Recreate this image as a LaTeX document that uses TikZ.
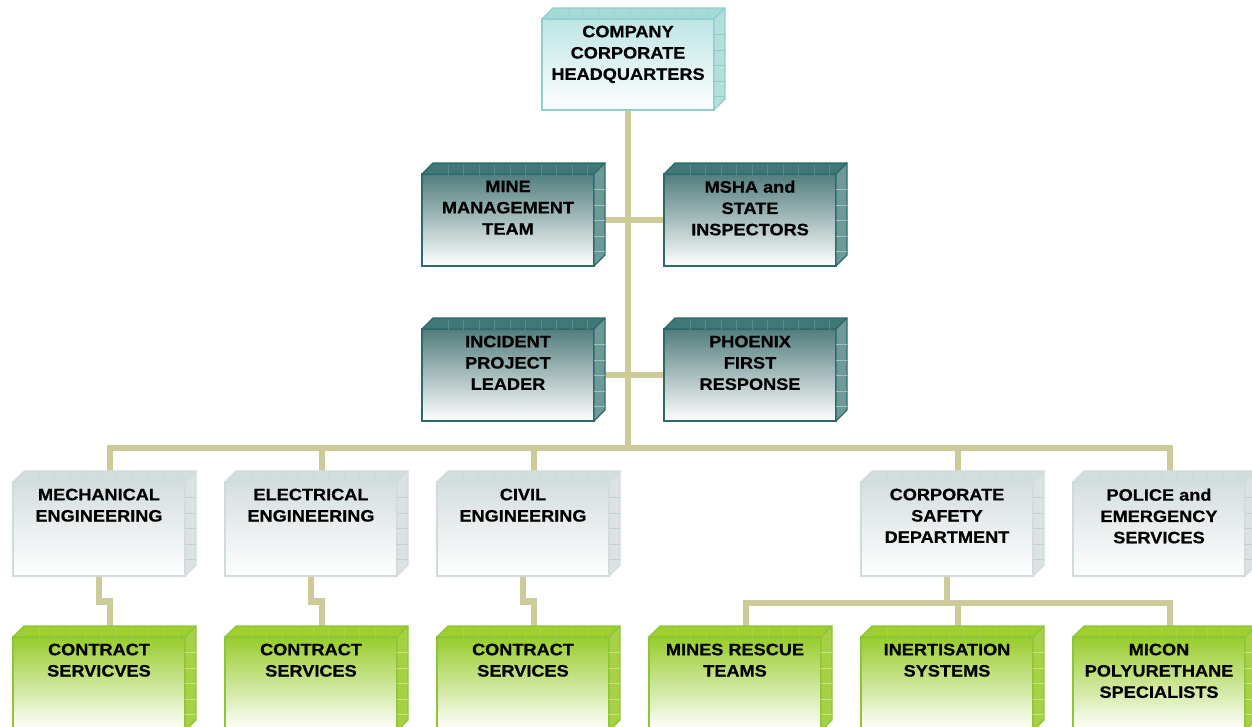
\documentclass[tikz,border=0pt]{standalone}
\usepackage{fontspec}
\setmainfont{Liberation Sans}[FakeStretch=1.1, BoldFeatures={FakeBold=0.6}]
\usetikzlibrary{backgrounds}

% connector colour
\definecolor{wire}{HTML}{CDCC99}
% headquarters (light teal)
\definecolor{hqEdge}{HTML}{8ECFCF}
\definecolor{hqTop}{HTML}{A6D9D9}
\definecolor{hqSide}{HTML}{B6DCDC}
\definecolor{hqGrid}{HTML}{93C9C9}
\definecolor{hqFace}{HTML}{BEE5E5}
% management row (dark teal)
\definecolor{dkEdge}{HTML}{2D6A6A}
\definecolor{dkTop}{HTML}{407777}
\definecolor{dkSide}{HTML}{6E9999}
\definecolor{dkGrid}{HTML}{A3C0C0}
\definecolor{dkFace}{HTML}{527D7D}
\definecolor{dkMid}{HTML}{C2D1D1}
% engineering row (grey)
\definecolor{gyEdge}{HTML}{D2DBDC}
\definecolor{gyTop}{HTML}{D4DDDE}
\definecolor{gySide}{HTML}{DCE2E3}
\definecolor{gyGrid}{HTML}{C6CFD0}
\definecolor{gyFace}{HTML}{D5DEDF}
% contractor row (green)
\definecolor{gnEdge}{HTML}{8CC43A}
\definecolor{gnTop}{HTML}{9ECF2F}
\definecolor{gnSide}{HTML}{A6D145}
\definecolor{gnGrid}{HTML}{C6E283}
\definecolor{gnFace}{HTML}{98CC2C}
\definecolor{gnMid}{HTML}{D6ECB4}

\newcommand\boxfont{\fontsize{16.5pt}{21.3pt}\selectfont\bfseries}

\tikzset{
  x=1pt, y=-1pt,
  wire/.style={draw=wire, line width=6.5pt, line join=miter},
  face/.style={minimum width=172pt, inner sep=0pt, outer sep=0pt,
    anchor=north west, line width=1.6pt},
  label text/.style={anchor=north, align=center, inner sep=0pt, font=\boxfont},
  hqfront/.style={face, draw=hqEdge, top color=hqFace, bottom color=white},
  hqtop/.style={fill=hqTop, draw=hqEdge, line width=1.2pt, line join=round},
  hqside/.style={fill=hqSide, draw=hqEdge, line width=1.2pt, line join=round},
  hqgrid/.style={draw=hqGrid, line width=0.6pt},
  dkfront/.style={face, draw=dkEdge, top color=dkFace, middle color=dkMid, bottom color=white},
  dktop/.style={fill=dkTop, draw=dkEdge, line width=1.2pt, line join=round},
  dkside/.style={fill=dkSide, draw=dkEdge, line width=1.2pt, line join=round},
  dkgrid/.style={draw=dkGrid, line width=0.6pt},
  gyfront/.style={face, draw=gyEdge, top color=gyFace, bottom color=white},
  gytop/.style={fill=gyTop, draw=gyEdge, line width=1.2pt, line join=round},
  gyside/.style={fill=gySide, draw=gyEdge, line width=1.2pt, line join=round},
  gygrid/.style={draw=gyGrid, line width=0.6pt},
  gnfront/.style={face, draw=gnEdge, top color=gnFace, middle color=gnMid, bottom color=white},
  gntop/.style={fill=gnTop, draw=gnEdge, line width=1.2pt, line join=round},
  gnside/.style={fill=gnSide, draw=gnEdge, line width=1.2pt, line join=round},
  gngrid/.style={draw=gnGrid, line width=0.6pt},
  tile/.style={draw opacity=0.3},
}

% #1 name, #2 colour family, #3 x, #4 y (front top-left), #5 height, #6 text
\newcommand\blockbox[6]{%
  \node[#2front, minimum height=#5pt] (#1) at (#3,#4) {};
  \coordinate (#1-bt) at ([shift={(11,-11)}]#1.north);
  \path[#2top] (#1.north west) -- ([shift={(11,-11)}]#1.north west)
    -- ([shift={(11,-11)}]#1.north east) -- (#1.north east) -- cycle;
  \foreach \u in {26,41.5,...,166}
    \draw[#2grid, tile] ([xshift=\u pt, yshift=-0.6pt]#1.north west) -- ++(0,-9.8);
  \path[#2side] (#1.north east) -- ([shift={(11,-11)}]#1.north east)
    -- ([shift={(11,-11)}]#1.south east) -- (#1.south east) -- cycle;
  \foreach \v in {15.5,31,46.5,62,77.5}
    \draw[#2grid] ([yshift=-\v pt]#1.north east) -- ++(11,0);
  \node[label text] (#1-t) at ([yshift=-6.5pt]#1.north) {#6};
}

\begin{document}
\begin{tikzpicture}
\clip (0,0) rectangle (1252,726);
\useasboundingbox (0,0) rectangle (1252,726);

% head office
\blockbox{hq}{hq}{542}{19}{91}{COMPANY\\CORPORATE\\HEADQUARTERS}

% management and inspection
\blockbox{mine}{dk}{422}{174}{92}{MINE\\MANAGEMENT\\TEAM}
\blockbox{msha}{dk}{664}{174}{92}{MSHA and\\STATE\\INSPECTORS}
\blockbox{lead}{dk}{422}{329}{92}{INCIDENT\\PROJECT\\LEADER}
\blockbox{phoenix}{dk}{664}{329}{92}{PHOENIX\\FIRST\\RESPONSE}

% departments
\blockbox{mech}{gy}{13}{482}{94}{MECHANICAL\\ENGINEERING}
\blockbox{elec}{gy}{225}{482}{94}{ELECTRICAL\\ENGINEERING}
\blockbox{civil}{gy}{437}{482}{94}{CIVIL\\ENGINEERING}
\blockbox{safety}{gy}{861}{482}{94}{CORPORATE\\SAFETY\\DEPARTMENT}
\blockbox{police}{gy}{1073}{482}{94}{POLICE and\\EMERGENCY\\SERVICES}

% contractors and specialists
\blockbox{cmech}{gn}{13}{637}{94}{CONTRACT\\SERVICVES}
\blockbox{celec}{gn}{225}{637}{94}{CONTRACT\\SERVICES}
\blockbox{ccivil}{gn}{437}{637}{94}{CONTRACT\\SERVICES}
\blockbox{rescue}{gn}{649}{637}{94}{MINES RESCUE\\TEAMS}
\blockbox{inert}{gn}{861}{637}{94}{INERTISATION\\SYSTEMS}
\blockbox{micon}{gn}{1073}{637}{94}{MICON\\POLYURETHANE\\SPECIALISTS}

% connectors behind the boxes
\begin{scope}[on background layer]
  \coordinate (bus) at (628,448);
  \draw[wire] (hq.south) -- (bus);
  \draw[wire] (mine.east) -- (msha.west);
  \draw[wire] (lead.east) -- (phoenix.west);
  \draw[wire] (mech-bt) |- (bus) -| (police-bt);
  \draw[wire] (elec-bt) -- (elec-bt |- bus);
  \draw[wire] (civil-bt) -- (civil-bt |- bus);
  \draw[wire] (safety-bt) -- (safety-bt |- bus);

  \draw[wire] (mech.south) -- ++(0,25.5) -| (cmech-bt);
  \draw[wire] (elec.south) -- ++(0,25.5) -| (celec-bt);
  \draw[wire] (civil.south) -- ++(0,25.5) -| (ccivil-bt);

  \draw[wire] (safety.south) -- ++(0,27) coordinate (sbus);
  \draw[wire] (rescue-bt) |- (sbus) -| (micon-bt);
  \draw[wire] (inert-bt) -- (inert-bt |- sbus);
\end{scope}
\end{tikzpicture}
\end{document}
